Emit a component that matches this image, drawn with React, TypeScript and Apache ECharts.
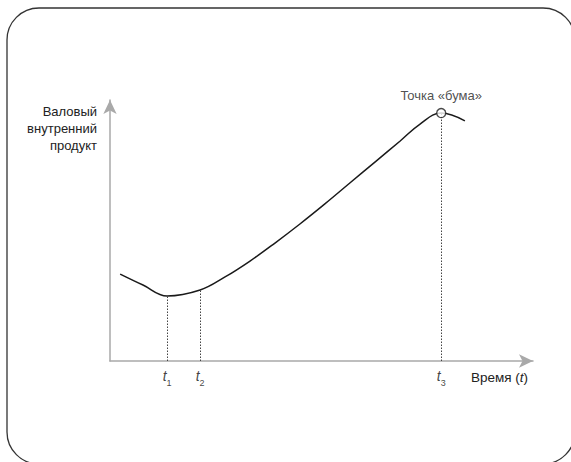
import React, { useEffect, useRef } from "react";
import * as echarts from "echarts";

// Curve: time (arbitrary units) vs GDP (arbitrary units)
const timeValues = [2.4, 7.8, 13.5, 21.3, 27.2, 33.1, 39.0, 44.9, 50.8, 56.7, 62.7, 68.6, 73.3, 78.3, 83.9];
const gdpValues = [33.3, 29.1, 24.9, 27.2, 32.2, 38.3, 45.2, 52.5, 60.2, 68.2, 76.3, 84.3, 90.8, 95.0, 92.0];

// Marked moments t1, t2, t3 (indexes into the curve)
const markerIndexes = [2, 3, 13];
const markerSubscripts = ["1", "2", "3"];
const boomIndex = 13;

const boomLabel = "Точка «бума»";
const yAxisName = "Валовый\nвнутренний\nпродукт";
const xAxisNameMain = "Время (";
const xAxisNameVar = "t";

const FONT = "'Liberation Sans', Arial, Helvetica, sans-serif";
const TEXT = "#222";
const AXIS = "#a9a9a9";

export default function App() {
  const ref = useRef<HTMLDivElement>(null);

  useEffect(() => {
    if (!ref.current) return;
    const chart = echarts.init(ref.current, undefined, { renderer: "svg" });

    const curve = timeValues.map((t, i) => [t, gdpValues[i]]);
    const markerPoints = markerIndexes.map((idx) => [timeValues[idx], 0]);

    chart.setOption({
      animation: false,
      backgroundColor: "#fff",
      grid: { left: 110, right: 38, top: 100, bottom: 101, containLabel: false },
      xAxis: {
        type: "value",
        min: 0,
        max: 100,
        axisLine: {
          show: true,
          onZero: false,
          symbol: ["none", "arrow"],
          symbolSize: [10, 14],
          lineStyle: { color: AXIS, width: 1.5 },
        },
        axisTick: { show: false },
        axisLabel: { show: false },
        splitLine: { show: false },
      },
      yAxis: {
        type: "value",
        min: 0,
        max: 100,
        axisLine: {
          show: true,
          onZero: false,
          symbol: ["none", "arrow"],
          symbolSize: [10, 14],
          lineStyle: { color: AXIS, width: 1.5 },
        },
        axisTick: { show: false },
        axisLabel: { show: false },
        splitLine: { show: false },
      },
      graphic: [
        {
          type: "rect",
          silent: true,
          shape: { x: 7, y: 8, width: 568, height: 456, r: 32 },
          style: { fill: "none", stroke: "#333", lineWidth: 1.3 },
        },
        {
          type: "text",
          x: 97,
          y: 103,
          style: {
            text: yAxisName,
            align: "right",
            verticalAlign: "top",
            fontSize: 13,
            fontFamily: FONT,
            fontWeight: "normal",
            lineHeight: 17,
            fill: TEXT,
          },
        },
        {
          type: "text",
          x: 471,
          y: 370,
          style: {
            text: `{a|${xAxisNameMain}}{b|${xAxisNameVar}}{a|)}`,
            verticalAlign: "top",
            rich: {
              a: { fontSize: 13.5, fontFamily: FONT, fontWeight: "normal", fill: TEXT },
              b: { fontSize: 13.5, fontFamily: FONT, fontWeight: "normal", fontStyle: "italic", fill: TEXT },
            },
          },
        },
      ],
      series: [
        {
          type: "line",
          data: curve,
          smooth: 0.4,
          symbol: "none",
          lineStyle: { color: "#1a1a1a", width: 1.5 },
          z: 3,
          markLine: {
            silent: true,
            symbol: "none",
            label: { show: false },
            lineStyle: { color: "#444", width: 1, type: [1.5, 1.5] },
            data: markerIndexes.map((idx) => [
              { coord: [timeValues[idx], 0] },
              { coord: [timeValues[idx], gdpValues[idx]] },
            ]),
          },
        },
        {
          type: "scatter",
          data: markerPoints,
          symbolSize: 0,
          silent: true,
          label: {
            show: true,
            position: "bottom",
            distance: 8,
            formatter: (p: any) => `{i|t}{s|${markerSubscripts[p.dataIndex]}}`,
            rich: {
              i: {
                fontSize: 14,
                fontStyle: "italic",
                fontFamily: FONT,
                color: "#111",
                verticalAlign: "bottom",
                padding: [0, 0, 4, 0],
              },
              s: { fontSize: 9, fontFamily: FONT, color: "#111", verticalAlign: "bottom" },
            },
          },
        },
        {
          type: "scatter",
          data: [[timeValues[boomIndex], gdpValues[boomIndex]]],
          symbol: "circle",
          symbolSize: 9,
          z: 5,
          silent: true,
          itemStyle: { color: "#fff", borderColor: "#1a1a1a", borderWidth: 1.3 },
          label: {
            show: true,
            position: "top",
            distance: 6,
            formatter: boomLabel,
            fontSize: 13,
            fontFamily: FONT,
            color: TEXT,
          },
        },
      ],
    });

    return () => chart.dispose();
  }, []);

  return (
    <div
      ref={ref}
      style={{ position: "fixed", left: 0, top: 0, width: 571, height: 462 }}
    />
  );
}
